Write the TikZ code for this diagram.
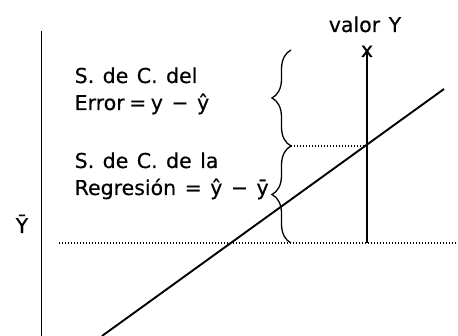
\documentclass[tikz,border=0pt]{standalone}
\usepackage{fontspec}
\setmainfont[WordSpace=1.3,FakeBold=0.4]{DejaVu Sans}
\usetikzlibrary{decorations.pathreplacing}
\begin{document}
\begin{tikzpicture}[x=1pt,y=-1pt,
  axis/.style={line width=1.9pt},
  dotline/.style={line width=1.2pt, dash pattern=on 1.2pt off 1.8pt},
  bracestyle/.style={decorate, decoration={brace, amplitude=19pt}, line width=1.3pt},
  lbl/.style={inner sep=0pt, anchor=base west, font=\fontsize{20.5}{25}\selectfont}]
\useasboundingbox (0,0) rectangle (458,336);
% axis
\coordinate (axtop) at (41.5,31);
\coordinate (axbot) at (41.5,336);
\draw[axis] (axtop) -- (axbot);
% regression line
\coordinate (rl) at (102,336);
\coordinate (rh) at (444,89);
\draw[axis] (rl) -- (rh);
% observed value
\node[lbl, anchor=base] (valor) at (365,32) {valor Y};
\node[lbl, anchor=base] (xmark) at (367,57) {x};
\coordinate (vmid) at (367,146);
\coordinate (vbot) at (367,243);
\draw[axis] (xmark.center) -- (vbot);
% dotted lines
\coordinate (bmid) at (291,146);
\coordinate (btop) at (291,50);
\coordinate (bbot) at (291,243);
\coordinate (dl) at (59,243);
\coordinate (dr) at (458,243);
\draw[dotline] (bmid) -- (vmid);
\draw[dotline] (dl) -- (dr);
% braces
\draw[bracestyle] (bmid) -- (btop);
\draw[bracestyle] (bbot) -- (bmid);
% texts
\node[lbl] (t1) at (74.5,83) {S. de C. del};
\node[lbl] (t2) at (74.5,110) {Error\hspace{4.5pt}=\hspace{4.5pt}y − ŷ};
\node[lbl] (t3) at (74.5,168) {S. de C. de la};
\node[lbl] (t4) at (74.5,195) {Regresión = ŷ − ȳ};
\node[lbl, anchor=base] (ybar) at (22,233) {Ȳ};
\end{tikzpicture}
\end{document}
